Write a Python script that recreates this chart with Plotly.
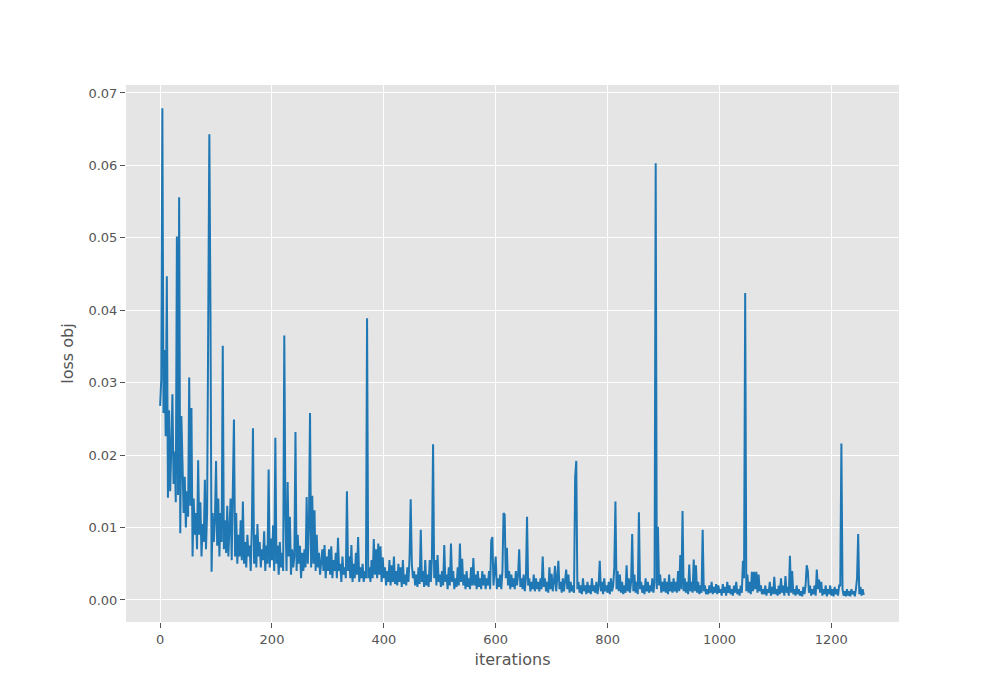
import plotly.graph_objects as go

# loss values, one every 2 iterations (iterations 0, 2, 4, ..., 1258)
step = 2
loss = [
    .0268, .0304, .0679, .0258, .0345, .0226, .0447, .0141, .0262, .0150,
    .0210, .0284, .0160, .0205, .0135, .0502, .0145, .0556, .0092, .0254,
    .0190, .0120, .0170, .0100, .0150, .0115, .0307, .0130, .0265, .0060,
    .0140, .0090, .0120, .0070, .0193, .0090, .0135, .0060, .0105, .0080,
    .0166, .0070, .0120, .0331, .0643, .0400, .0039, .0120, .0080, .0110,
    .0192, .0075, .0140, .0060, .0120, .0080, .0351, .0070, .0110, .0065,
    .0130, .0060, .0100, .0140, .0055, .0180, .0249, .0060, .0120, .0050,
    .0090, .0060, .0110, .0055, .0136, .0050, .0080, .0045, .0090, .0060,
    .0075, .0040, .0100, .0237, .0050, .0090, .0045, .0105, .0060, .0080,
    .0045, .0070, .0055, .0095, .0040, .0075, .0050, .0180, .0045, .0085,
    .0055, .0103, .0040, .0224, .0050, .0075, .0035, .0080, .0045, .0065,
    .0040, .0365, .0120, .0040, .0163, .0060, .0115, .0035, .0070, .0045,
    .0060, .0232, .0040, .0090, .0050, .0075, .0030, .0065, .0040, .0070,
    .0045, .0142, .0050, .0100, .0258, .0045, .0144, .0050, .0124, .0040,
    .0090, .0045, .0065, .0035, .0055, .0070, .0040, .0076, .0030, .0060,
    .0040, .0070, .0035, .0074, .0030, .0055, .0040, .0065, .0030, .0086,
    .0040, .0050, .0025, .0060, .0035, .0045, .0030, .0150, .0040, .0060,
    .0030, .0076, .0025, .0050, .0030, .0065, .0035, .0087, .0025, .0045,
    .0030, .0050, .0025, .0040, .0030, .0389, .0030, .0045, .0025, .0055,
    .0030, .0084, .0035, .0070, .0030, .0078, .0035, .0074, .0025, .0059,
    .0030, .0045, .0020, .0040, .0025, .0055, .0020, .0048, .0025, .0060,
    .0022, .0040, .0020, .0050, .0025, .0045, .0018, .0055, .0022, .0035,
    .0020, .0045, .0025, .0060, .0139, .0050, .0030, .0040, .0020, .0035,
    .0018, .0045, .0022, .0097, .0025, .0040, .0018, .0055, .0020, .0035,
    .0018, .0055, .0025, .0060, .0215, .0030, .0055, .0020, .0062, .0025,
    .0035, .0018, .0040, .0020, .0076, .0025, .0035, .0015, .0045, .0020,
    .0078, .0025, .0040, .0015, .0030, .0018, .0045, .0020, .0078, .0025,
    .0057, .0020, .0035, .0015, .0040, .0018, .0030, .0015, .0045, .0020,
    .0058, .0020, .0035, .0015, .0040, .0018, .0030, .0015, .0040, .0020,
    .0035, .0015, .0030, .0020, .0040, .0015, .0082, .0087, .0020, .0035,
    .0060, .0015, .0030, .0018, .0035, .0015, .0040, .0120, .0118, .0030,
    .0072, .0020, .0040, .0015, .0035, .0018, .0030, .0015, .0040, .0020,
    .0035, .0070, .0018, .0030, .0015, .0035, .0012, .0030, .0115, .0020,
    .0030, .0012, .0025, .0015, .0035, .0012, .0030, .0015, .0025, .0012,
    .0030, .0015, .0060, .0018, .0030, .0012, .0025, .0010, .0045, .0015,
    .0036, .0012, .0025, .0047, .0012, .0030, .0054, .0015, .0025, .0010,
    .0030, .0012, .0025, .0042, .0015, .0035, .0010, .0025, .0012, .0020,
    .0010, .0169, .0192, .0015, .0025, .0010, .0020, .0008, .0030, .0012,
    .0020, .0008, .0025, .0010, .0020, .0008, .0030, .0012, .0020, .0010,
    .0025, .0008, .0020, .0054, .0012, .0025, .0008, .0030, .0012, .0020,
    .0010, .0025, .0008, .0030, .0012, .0020, .0045, .0136, .0015, .0040,
    .0012, .0035, .0010, .0025, .0008, .0020, .0010, .0048, .0012, .0030,
    .0010, .0025, .0091, .0012, .0035, .0010, .0025, .0008, .0121, .0015,
    .0025, .0010, .0020, .0008, .0030, .0012, .0025, .0010, .0020, .0012,
    .0030, .0010, .0025, .0603, .0015, .0101, .0020, .0035, .0010, .0025,
    .0012, .0030, .0010, .0025, .0008, .0035, .0012, .0025, .0010, .0030,
    .0012, .0025, .0010, .0040, .0012, .0062, .0015, .0123, .0012, .0030,
    .0010, .0025, .0008, .0049, .0012, .0025, .0010, .0056, .0012, .0048,
    .0010, .0025, .0008, .0020, .0010, .0097, .0012, .0020, .0008, .0015,
    .0008, .0020, .0010, .0025, .0008, .0018, .0010, .0022, .0008, .0020,
    .0010, .0015, .0006, .0022, .0010, .0018, .0006, .0025, .0010, .0020,
    .0008, .0015, .0006, .0020, .0010, .0025, .0008, .0015, .0006, .0020,
    .0010, .0054, .0030, .0424, .0012, .0035, .0010, .0025, .0008, .0039,
    .0012, .0039, .0015, .0039, .0010, .0035, .0012, .0020, .0008, .0015,
    .0008, .0020, .0006, .0015, .0010, .0025, .0006, .0018, .0008, .0032,
    .0008, .0015, .0006, .0020, .0008, .0030, .0010, .0020, .0006, .0033,
    .0010, .0018, .0006, .0061, .0010, .0040, .0008, .0015, .0006, .0020,
    .0008, .0015, .0006, .0012, .0005, .0018, .0008, .0020, .0048, .0040,
    .0010, .0020, .0006, .0015, .0008, .0020, .0006, .0042, .0015, .0028,
    .0010, .0025, .0006, .0015, .0008, .0020, .0005, .0015, .0008, .0020,
    .0006, .0015, .0005, .0018, .0008, .0015, .0006, .0020, .0020, .0216,
    .0015, .0006, .0012, .0005, .0015, .0006, .0012, .0005, .0015, .0008,
    .0012, .0005, .0015, .0030, .0091, .0008, .0018, .0006, .0015, .0007,
]
iterations = [i * step for i in range(len(loss))]

x_ticks = [0, 200, 400, 600, 800, 1000, 1200]
y_ticks = [0.00, 0.01, 0.02, 0.03, 0.04, 0.05, 0.06, 0.07]

fig = go.Figure()
fig.add_trace(go.Scatter(
    x=iterations, y=loss, mode="lines",
    line=dict(color="#1f77b4", width=2),
    showlegend=False, hoverinfo="skip",
))

axis_common = dict(
    showgrid=True, gridcolor="white", gridwidth=1,
    zeroline=False, showline=False,
    ticks="outside", ticklen=5, tickwidth=1, tickcolor="#555555",
    tickfont=dict(family="DejaVu Sans", size=13, color="#555555"),
)

fig.update_layout(
    width=1000, height=700,
    margin=dict(l=118, r=109, t=77, b=86),
    paper_bgcolor="white", plot_bgcolor="#E5E5E5",
    xaxis=dict(
        range=[-61, 1321], tickvals=x_ticks,
        title=dict(text="iterations", standoff=8,
                   font=dict(family="DejaVu Sans", size=16, color="#555555")),
        **axis_common,
    ),
    yaxis=dict(
        range=[-0.00304, 0.0711], tickvals=y_ticks, tickformat=".2f",
        title=dict(text="loss obj", standoff=10,
                   font=dict(family="DejaVu Sans", size=16, color="#555555")),
        **axis_common,
    ),
)

fig.write_html("out.html")
